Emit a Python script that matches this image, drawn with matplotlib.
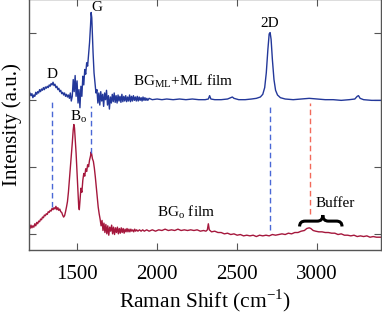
import matplotlib
matplotlib.use("Agg")
import matplotlib.pyplot as plt
from matplotlib.path import Path
from matplotlib.patches import PathPatch

plt.rcParams['font.family'] = ['Liberation Serif', 'DejaVu Serif']
plt.rcParams['mathtext.fontset'] = 'custom'
plt.rcParams['mathtext.rm'] = 'Liberation Serif'

# ---- data: BG_ML + ML film (blue) ----
blue_x = [1200,1206,1212,1218,1224,1230,1236,1242,1248,1254,1260,1266,1272,1278,1284,1290,1296,1302,1308,1314,
          1320,1326,1332,1338,1344,1350,1356,1362,1368,1374,1380,1386,1392,1398,1404,1410,1416,1422,1428,1434,
          1440,1446,1452,1458,1464,1470,1476,1482,1488,1494,1500,1506,1512,1518,1524,1530,1536,1542,1548,1554,
          1560,1566,1572,1578,1584,1588,1592,1596,1600,1606,1612,1618,1624,1630,1636,1642,1648,1654,1660,1666,
          1672,1678,1684,1690,1696,1702,1708,1714,1720,1726,1732,1738,1744,1750,1756,1762,1768,1774,1780,1786,
          1792,1798,1804,1810,1816,1822,1828,1834,1840,1846,1852,1858,1864,1870,1876,1882,1888,1894,1900,1906,
          1912,1918,1924,1930,1936,1942,1950,1970,2000,2030,2060,2100,2140,2180,2220,2260,2300,2320,2328,2336,
          2360,2400,2440,2460,2470,2480,2510,2550,2590,2620,2645,2660,2672,2682,2692,2700,2706,2712,2720,2730,
          2740,2752,2770,2800,2850,2900,2950,3000,3050,3100,3150,3200,3235,3250,3258,3268,3290,3340,3400]
blue_y = [2.04,2.10,2.06,2.09,2.03,2.07,2.05,2.11,2.08,2.12,2.10,2.15,2.12,2.16,2.14,2.18,2.15,2.19,2.17,2.20,
          2.18,2.22,2.20,2.24,2.22,2.26,2.21,2.23,2.18,2.20,2.15,2.17,2.12,2.14,2.09,2.11,2.07,2.10,2.05,2.08,
          2.04,2.07,2.02,2.10,1.98,2.05,2.30,2.12,2.36,2.05,2.28,1.95,2.15,1.88,2.20,2.05,2.35,2.22,2.45,2.38,
          2.55,2.50,2.68,2.85,3.10,3.30,3.22,2.95,2.70,2.40,2.25,2.10,2.15,1.95,2.10,1.92,2.12,1.98,2.08,1.90,
          2.10,2.00,2.14,1.92,2.06,1.86,2.04,1.95,2.08,1.97,2.10,1.96,2.06,1.95,2.07,1.98,2.05,1.96,2.08,1.97,
          2.05,1.98,2.06,1.97,2.04,1.98,2.07,1.97,2.05,1.98,2.06,1.99,2.04,1.98,2.05,1.98,2.04,1.99,2.03,1.98,
          2.04,1.99,2.03,1.99,2.02,1.99,2.02,2.00,2.01,2.00,2.01,2.00,2.01,2.00,2.01,2.00,2.00,2.01,2.06,2.01,
          2.00,2.00,2.01,2.03,2.04,2.02,2.00,2.00,2.01,2.02,2.04,2.08,2.18,2.40,2.75,2.98,3.00,2.90,2.60,2.30,
          2.14,2.07,2.03,2.01,2.00,2.01,2.02,2.01,2.00,2.00,1.99,2.00,2.01,2.05,2.06,2.02,2.00,1.99,1.99]

# ---- data: BG_o film (red) ----
red_x = [1200,1206,1212,1218,1224,1230,1236,1242,1248,1254,1260,1266,1272,1278,1284,1290,1296,1302,1308,1314,
         1320,1326,1332,1338,1344,1350,1356,1362,1368,1374,1380,1386,1392,1398,1404,1410,1416,1422,1428,1434,
         1440,1446,1452,1458,1464,1470,1476,1480,1484,1488,1494,1500,1506,1510,1514,1518,1524,1530,1536,1542,
         1548,1554,1560,1566,1572,1578,1584,1588,1592,1596,1602,1608,1614,1620,1626,1632,1638,1644,1650,1656,
         1662,1668,1674,1680,1686,1692,1698,1704,1710,1716,1722,1728,1734,1740,1746,1752,1758,1764,1770,1776,
         1782,1788,1794,1800,1806,1812,1818,1824,1830,1836,1842,1848,1854,1860,1866,1872,1880,1890,1900,1910,
         1920,1935,1950,1970,1990,2010,2030,2050,2070,2090,2110,2130,2150,2170,2190,2210,2230,2250,2270,2290,
         2305,2314,2320,2326,2340,2360,2380,2400,2420,2440,2460,2480,2500,2520,2540,2560,2580,2600,2620,2640,
         2660,2680,2700,2720,2740,2760,2780,2800,2820,2840,2860,2880,2900,2920,2935,2950,2960,2975,2990,3010,
         3030,3050,3070,3090,3110,3130,3150,3170,3190,3210,3230,3250,3270,3290,3310,3330,3350,3370,3400]
red_y = [0.12,0.08,0.13,0.09,0.12,0.10,0.15,0.12,0.17,0.15,0.19,0.18,0.22,0.21,0.25,0.24,0.28,0.27,0.30,0.29,
         0.33,0.32,0.35,0.34,0.38,0.36,0.39,0.37,0.41,0.36,0.39,0.35,0.37,0.33,0.32,0.28,0.25,0.27,0.33,0.40,
         0.48,0.62,0.80,0.98,1.15,1.35,1.55,1.63,1.58,1.42,1.20,0.90,0.60,0.42,0.36,0.48,0.68,0.62,0.80,0.90,
         0.86,0.97,0.93,1.03,1.00,1.10,1.16,1.22,1.18,1.12,1.08,0.98,0.85,0.70,0.55,0.40,0.30,0.22,0.12,0.20,
         0.05,0.16,0.02,0.14,0.00,0.12,-0.02,0.10,0.04,0.13,0.00,0.10,-0.01,0.09,0.02,0.10,0.00,0.08,0.01,0.09,
         0.02,0.08,0.01,0.07,0.03,0.08,0.03,0.07,0.03,0.07,0.04,0.06,0.03,0.07,0.04,0.06,0.04,0.06,0.04,0.06,
         0.04,0.06,0.04,0.06,0.04,0.06,0.05,0.07,0.05,0.06,0.05,0.07,0.05,0.06,0.05,0.06,0.05,0.06,0.04,0.05,
         0.04,0.06,0.15,0.06,0.03,0.04,0.02,0.02,0.00,0.01,-0.01,0.00,-0.02,-0.01,-0.03,-0.02,-0.03,-0.02,-0.04,-0.02,
         -0.03,-0.02,-0.03,-0.01,-0.02,-0.01,0.00,-0.01,0.01,0.00,0.02,0.02,0.04,0.05,0.08,0.09,0.08,0.05,0.04,0.03,
         0.03,0.02,0.02,0.01,0.01,-0.01,0.00,-0.02,-0.02,-0.03,-0.02,-0.04,-0.03,-0.04,-0.03,-0.05,-0.04,-0.05,-0.05]

x_ticks = [1500, 2000, 2500, 3000]
y_ticks = [0, 1, 2, 3]

# peak marker lines: (x, y_top, y_bottom, color)
marker_x = [1345, 1590, 2706, 2956]
marker_top = [1.98, 1.90, 1.90, 1.95]
marker_bot = [0.40, 1.21, 0.06, 0.30]
marker_col = ['#4a68d6', '#4a68d6', '#4a68d6', '#f26a5a']

fig = plt.figure(figsize=(3.82, 3.16), dpi=100)
ax = fig.add_axes([0.076, 0.209, 0.922, 0.794])

ax.plot(blue_x, blue_y, color='#23389a', lw=1.0)
ax.plot(red_x, red_y, color='#a5173c', lw=1.0)

for xv, yt, yb, c in zip(marker_x, marker_top, marker_bot, marker_col):
    ax.plot([xv, xv], [yb, yt], color=c, lw=1.0, ls=(0, (4, 2.5)))

ax.set_xlim(1200, 3400)
ax.set_ylim(-0.24, 3.50)
ax.set_xticks(x_ticks)
ax.set_yticks(y_ticks)
ax.set_yticklabels([])
ax.tick_params(direction='in', length=5, width=0.8, color='#555555',
               top=True, right=True, labelsize=15, pad=11)
for s in ax.spines.values():
    s.set_color('#555555')
    s.set_linewidth(1.0)

ax.set_xlabel('Raman Shift (cm$^{\\mathregular{-1}}$)', fontsize=15.5, labelpad=2)
ax.set_ylabel('Intensity (a.u.)', fontsize=15, labelpad=-6)

tk = dict(fontsize=11, ha='center', va='center')
ax.text(1345, 2.38, 'D', **tk)
ax.text(1625, 3.37, 'G', **tk)
ax.text(2706, 3.14, '2D', **tk)
ax.text(1510, 1.74, 'B$_{\\mathregular{o}}$', **tk)
ax.text(2165, 2.28, 'BG$_{\\mathregular{ML}}$+ML film', **tk)
ax.text(2180, 0.33, 'BG$_{\\mathregular{o}}$ film', **tk)
ax.text(3115, 0.45, 'Buffer', **tk)

# curly brace
xL, xm, xR = 2890, 3035, 3155
yb, ymid, yt = 0.11, 0.19, 0.28
verts = [(xL, yb), (xL, ymid), (xL + 35, ymid),
         (xm - 35, ymid),
         (xm, ymid), (xm, yt),
         (xm, ymid), (xm + 35, ymid),
         (xR - 35, ymid),
         (xR, ymid), (xR, yb)]
codes = [Path.MOVETO, Path.CURVE3, Path.CURVE3,
         Path.LINETO,
         Path.CURVE3, Path.CURVE3,
         Path.CURVE3, Path.CURVE3,
         Path.LINETO,
         Path.CURVE3, Path.CURVE3]
ax.add_patch(PathPatch(Path(verts, codes), fill=False, lw=2.2, color='black'))

fig.savefig('out.png', dpi=100)
